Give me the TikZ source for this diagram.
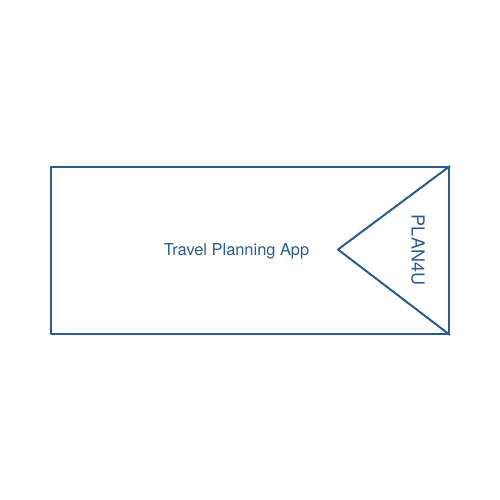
\documentclass[tikz,border=0pt]{standalone}
\usepackage{fontspec}
\setmainfont{TeX Gyre Heros}
\usetikzlibrary{positioning, calc}
\definecolor{appblue}{RGB}{43,92,143}

\begin{document}
\begin{tikzpicture}[x=0.75pt, y=-0.75pt,
    frame/.style={draw=appblue, line width=1.5pt, line join=round},
    label/.style={text=appblue, font=\fontsize{12.3}{14}\selectfont, inner sep=0pt}]
        % Cadre de la page
        \useasboundingbox (0,0) rectangle (500,500);

        % Rectangle de l'application
        \node[frame, minimum width=398*0.75pt, minimum height=167*0.75pt, anchor=north west] (app) at (50,166) {};

        % Pointe du triangle
        \coordinate (tip) at (338,249.5);
        \draw[frame] (app.north east) -- (tip) -- (app.south east);

        % Textes
        \node[label] (title) at (236.5,251.5) {Travel Planning App};
        \node[label, rotate=-90, font=\fontsize{13.5}{16}\selectfont] (brand) at (418,250) {PLAN4U};
    \end{tikzpicture}
\end{document}
